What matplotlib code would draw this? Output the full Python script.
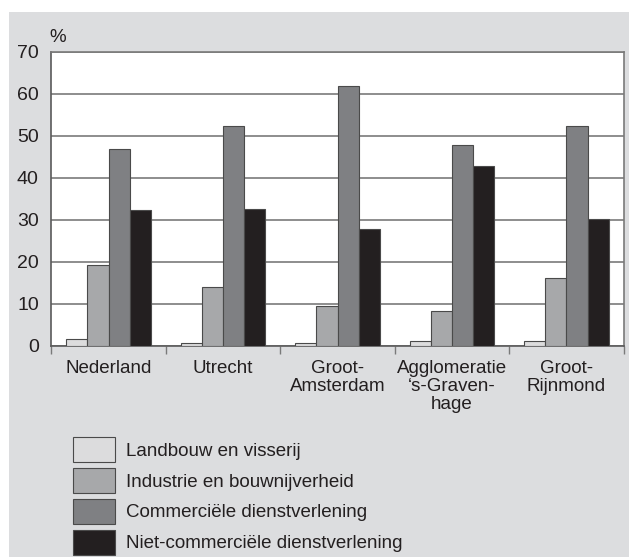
import numpy as np
import matplotlib.pyplot as plt
from matplotlib.patches import Rectangle, Patch

plt.rcParams['font.family'] = ['Liberation Sans', 'DejaVu Sans']

# data
regions = ['Nederland', 'Utrecht', 'Groot-\nAmsterdam', 'Agglomeratie\n\u2018s-Graven-\nhage', 'Groot-\nRijnmond']
sectors = ['Landbouw en visserij', 'Industrie en bouwnijverheid',
           'Commerciële dienstverlening', 'Niet-commerciële dienstverlening']
landbouw = [1.6, 0.6, 0.7, 1.2, 1.2]
industrie = [19.3, 14.0, 9.5, 8.4, 16.2]
commercieel = [47.0, 52.5, 61.8, 47.8, 52.5]
niet_commercieel = [32.4, 32.6, 27.9, 42.9, 30.2]
yticks = [0, 10, 20, 30, 40, 50, 60, 70]

series = [landbouw, industrie, commercieel, niet_commercieel]
colors = ['#dcdcdd', '#a7a8aa', '#7f8083', '#231f20']
bg = '#dcdddf'
edge = '#4a4a4a'

fig = plt.figure(figsize=(6.29, 5.57), dpi=100)
fig.patches.append(Rectangle((9/629, 0), 1, 1 - 12/557, transform=fig.transFigure,
                             facecolor=bg, edgecolor='none', zorder=-10))

ax = fig.add_axes([51.3/629, 1 - 346/557, 572.4/629, 294/557])
ax.set_facecolor('white')

x = np.arange(len(regions))
w = 0.184
for i, (vals, c) in enumerate(zip(series, colors)):
    ax.bar(x + (i - 1.5) * w, vals, width=w, color=c, edgecolor=edge,
           linewidth=0.8, zorder=3, label=sectors[i])

ax.set_xlim(-0.5, len(regions) - 0.5)
ax.set_ylim(0, 70)
ax.set_yticks(yticks)
ax.yaxis.grid(True, color='#7a7a7a', linewidth=1.2, zorder=1)
ax.tick_params(axis='y', length=0, pad=9, labelsize=14, labelcolor='#231f20')

ax.set_xticks(np.arange(len(regions) + 1) - 0.5)
ax.set_xticklabels([])
ax.set_xticks(x, minor=True)
ax.set_xticklabels(regions, minor=True, fontsize=13.5, color='#231f20', linespacing=1.1)
ax.tick_params(axis='x', which='major', length=6, color='#7a7a7a', width=1)
ax.tick_params(axis='x', which='minor', length=0, pad=10)

for s in ['top', 'right']:
    ax.spines[s].set_color('#7a7a7a')
    ax.spines[s].set_linewidth(1.2)
ax.spines['left'].set_color('#5a5a5a')
ax.spines['bottom'].set_color('#5a5a5a')
ax.spines['left'].set_linewidth(1.2)
ax.spines['bottom'].set_linewidth(1.2)

ax.text(-0.003, 1.02, '%', transform=ax.transAxes, fontsize=13.5, color='#231f20',
        ha='left', va='bottom')

handles = [Patch(facecolor=c, edgecolor=edge, linewidth=0.8) for c in colors]
fig.legend(handles, sectors, loc='upper left', bbox_to_anchor=(73.3/629, 1 - 437/557),
           frameon=False, fontsize=13.5, handlelength=2.24, handleheight=1.68,
           labelspacing=0.31, handletextpad=0.55, borderpad=0, borderaxespad=0,
           labelcolor='#231f20')

fig.savefig('out.png', dpi=100)
